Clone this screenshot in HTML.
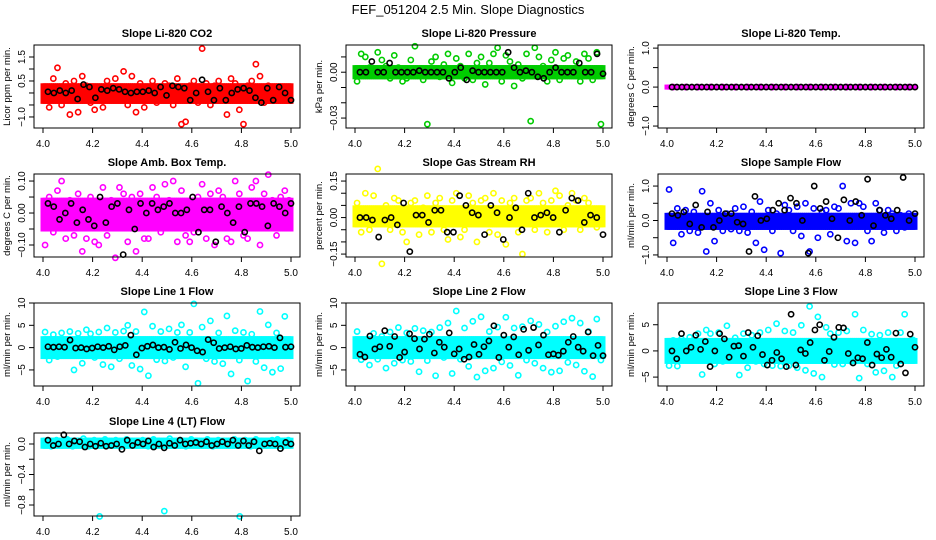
<!DOCTYPE html>
<html><head><meta charset="utf-8"><style>
html,body{margin:0;padding:0;background:#fff;}
svg{display:block;font-family:"Liberation Sans",Arial,sans-serif;}
.t{font-weight:bold;font-size:11px;}
.tk{font-size:10px;}
.yl{font-size:9.5px;}
</style></head><body>
<svg id="chart" width="936" height="540" viewBox="0 0 936 540">
<rect width="936" height="540" fill="#fff"/>
<text x="468" y="14" text-anchor="middle" font-size="13">FEF_051204  2.5 Min. Slope Diagnostics</text>
</svg>
<script>
// ---- data ----
const xTicks = [4.0, 4.2, 4.4, 4.6, 4.8, 5.0];
const xTickLabels = ["4.0", "4.2", "4.4", "4.6", "4.8", "5.0"];

const co2Band = [-0.35, 0.3];
const co2Points = [0.1,-0.6,0.6,1.05,-0.5,0.4,-0.9,0.5,-0.8,0.7,0.3,-0.4,-0.7,0.2,-0.6,0.5,-0.3,0.6,-0.2,0.9,-0.5,0.7,-0.8,0.4,-0.6,0.2,0.5,-0.4,-0.3,0.4,0.3,-0.5,0.6,-1.3,-1.2,0.3,0.5,-0.4,1.85,0.4,-0.5,0.3,0.5,-0.3,-0.9,0.6,0.4,-0.7,-1.3,0.3,0.5,1.2,0.7,-0.4,0.3,0.2,-0.3,0.1,-0.2,0.0];
const co2Black = [0.05,0.0,0.1,0.0,0.1,-0.25,0.35,0.25,-0.2,0.15,0.1,0.2,0.15,0.05,0.0,0.05,0.05,0.1,0.0,0.25,-0.1,0.3,0.25,0.2,-0.3,0.0,0.55,0.05,-0.3,0.2,-0.3,0.0,0.15,0.2,0.1,-0.2,-0.4,0.2,-0.3,0.25,0.0,-0.3];

const presBand = [-0.003, 0.003];
const presPoints = [-0.006,0.012,0.010,0.003,-0.002,0.013,0.008,0.004,-0.004,0.011,0.003,-0.006,-0.004,0.008,0.017,0.002,-0.005,-0.034,0.007,0.010,-0.003,0.005,0.012,-0.007,0.009,0.004,-0.004,0.012,-0.005,0.006,0.010,-0.008,0.006,0.012,0.016,-0.006,0.011,0.007,-0.009,0.005,-0.004,0.012,-0.032,0.016,0.010,0.004,-0.006,0.008,0.013,-0.005,0.009,0.011,-0.002,0.007,-0.006,0.012,0.009,-0.005,0.013,-0.034];
const presBlack = [0.0,0.0,0.007,0.0,0.0,0.006,0.0,0.0,0.0,0.0,0.001,0.0,0.0,0.0,0.0,-0.004,0.0,0.003,-0.005,0.001,0.0,0.0,0.0,0.0,0.0,0.013,0.003,0.0,0.001,0.0,-0.003,-0.004,0.0,0.003,0.0,0.0,0.0,0.006,0.0,0.0,0.012,-0.001];

const tempBand = [0.0, 0.0];
const tempPoints = [0,0,0,0,0,0,0,0,0,0,0,0,0,0,0,0,0,0,0,0];
const tempBlack = [0,0,0,0,0,0,0,0,0,0,0,0,0,0,0,0,0,0,0,0,0,0,0,0,0,0,0,0,0,0,0,0,0,0,0,0,0,0,0,0,0,0,0,0,0,0,0,0,0,0];

const ambBand = [-0.05, 0.04];
const ambPoints = [-0.1,0.05,-0.06,0.07,0.1,-0.08,0.04,-0.07,0.06,-0.12,-0.08,0.05,-0.09,-0.1,0.08,-0.07,0.04,-0.14,0.08,0.06,-0.09,0.05,-0.12,0.06,-0.08,-0.08,0.08,0.05,-0.06,0.09,0.04,0.1,-0.09,0.07,-0.07,-0.09,-0.06,0.05,0.09,-0.08,0.06,-0.1,0.07,0.05,-0.08,-0.09,0.1,0.06,-0.07,-0.08,0.08,0.1,-0.1,0.06,0.12,0.04,-0.07,0.05,0.07,0.04];
const ambBlack = [0.03,0.02,-0.02,0.0,0.03,-0.03,0.01,-0.02,-0.04,0.05,-0.03,0.02,0.03,-0.13,0.01,-0.05,0.03,0.0,0.03,0.01,0.02,0.03,0.0,0.0,0.01,0.05,-0.06,0.01,0.01,-0.09,0.02,0.0,-0.03,0.02,-0.06,0.03,0.03,0.02,-0.04,0.03,0.02,0.0,0.03];

const rhBand = [-0.03, 0.04];
const rhPoints = [0.06,-0.06,0.1,-0.05,0.09,0.2,-0.19,0.05,-0.05,0.08,0.07,-0.06,-0.1,0.06,0.07,-0.07,0.04,0.09,-0.06,0.06,0.08,-0.05,-0.09,0.07,0.1,-0.08,-0.05,0.09,0.06,-0.1,0.07,0.08,-0.06,0.1,-0.07,0.07,-0.11,0.06,0.08,-0.06,-0.15,0.07,0.08,-0.05,0.1,0.06,-0.06,0.07,0.11,0.09,-0.05,0.05,0.1,0.07,-0.05,0.08,0.06,0.03,-0.04,0.02];
const rhBlack = [0.0,0.0,-0.01,-0.08,-0.01,0.0,-0.03,0.06,-0.14,0.01,0.01,-0.02,0.03,0.03,-0.06,-0.06,0.09,0.05,0.02,0.01,-0.07,0.05,0.02,-0.09,0.0,0.04,-0.05,0.1,0.0,0.01,0.02,0.0,-0.06,0.03,0.08,0.07,-0.02,0.01,0.0,-0.07];

const sfBand = [-0.2, 0.15];
const sfPoints = [0.9,-0.65,0.35,-0.4,0.3,-0.3,0.25,-0.35,0.85,-0.9,0.5,-0.6,0.3,-0.3,0.2,-0.25,0.35,-0.3,0.4,-0.35,0.25,-0.65,0.55,-0.85,0.3,-0.3,0.2,-0.95,0.45,0.3,-0.3,0.4,-0.45,0.5,-0.9,0.35,-0.5,0.25,0.3,-0.4,0.4,0.35,1.0,-0.6,0.5,-0.65,0.5,0.4,-0.3,-0.6,0.5,0.3,-0.35,0.3,0.2,-0.3,0.15,-0.2,0.2,-0.1];
const sfBlack = [0.2,0.15,0.25,-0.1,0.45,-0.2,0.25,-0.2,0.0,0.2,0.2,-0.05,-0.1,-0.9,0.7,0.0,0.05,0.3,0.5,0.3,0.65,0.5,0.0,-0.95,1.0,0.35,0.55,0.05,-0.5,0.6,0.0,0.55,0.15,1.2,-0.15,0.3,0.15,0.05,0.3,1.25,0.0,0.2];

const l1Band = [-2, 2];
const l1Points = [3.5,-2.8,2.9,-2,3.3,-1.6,3.6,-5,3.2,-3.5,4,3.1,-2.2,3.5,-3.8,4.4,-4.3,3.4,-2.5,3.7,5,-4,3.6,-4.8,8,-6.3,4.8,-2.7,3.6,-3,4.2,-2.2,3.4,5.1,-4.3,3.4,9.8,-8,4.6,-2.5,6,-3.1,3.3,-3.6,7.1,-5.9,3.8,-2.8,3.4,-7.5,3,-3.1,8.1,-4.5,5.1,-5.5,3.3,-4.7,7,1.5];
const l1Black = [0.2,0.1,0.2,0.1,1.7,-0.1,0.0,-0.3,-0.1,0.2,0.0,0.3,-0.5,0.2,0.5,2.8,-1.6,-0.1,0.3,0.6,0.0,0.1,-0.4,1.2,-0.2,0.6,0.0,-0.7,-1.0,1.8,1.1,-0.2,0.0,0.2,-0.3,-0.2,0.5,0.1,0.0,0.2,0.3,0.0,2.2,0.1,0.2];

const l2Band = [-2, 2];
const l2Points = [3.6,-2.7,1.7,-3.9,3.2,-2.6,2.5,-4.6,3.5,-3.5,4.5,-2.8,3.3,-3.1,4.3,-5.4,3.8,-2.9,3.5,-6.3,4.5,-2.2,5.5,-5.8,8.2,-2.6,4.4,-4.2,5.9,-6.6,6.9,-5.2,3.6,-4.6,4.6,-3.2,6.8,-4,4.4,-6.2,4.7,-2.8,6,-3.5,5.2,-4.6,3.5,-5.5,4.8,-5.2,5.8,-3.3,6.6,-3.9,5.5,-5.3,3.6,-6.5,6.4,-2.8];
const l2Black = [-1.5,-2.1,2.6,-0.3,0.2,3.8,0.3,2.5,-2.2,-1,3.1,2,-0.3,1.9,3,-1.2,1.2,0.1,3.3,-1.4,-0.3,-2.6,-2.1,0.7,-1.5,0.2,1.5,4.9,-2.2,2.8,0.1,2.4,-1.6,4.1,-0.6,4.5,0.6,2.8,-1.6,-1.4,-1.7,-0.8,1.2,2.5,0.1,-0.8,3.5,-1.8,0.5,-1.8];

const l3Band = [-2, 2];
const l3Points = [-2.8,2,-2.9,2.3,-1.5,2.6,-1.5,3.3,-4.5,4,3.3,-2.5,3.5,-2,4.8,-1.5,2.5,-4.6,3.3,-3.2,3,-2,3.5,-2.5,4,-2.8,5.2,-2.9,3.8,-2.8,3.5,-3.2,4.9,-3.7,8.5,-4.3,6.5,-5,4.5,3.3,-2.6,3.5,-2.5,3.8,-2,7,-5.2,4,-2.5,3.2,-4.1,3,-3.8,3.5,-5,-2.8,3.5,7,0.8,2.1];
const l3Black = [0.0,-1.5,3.3,0.0,0.7,3.0,0.3,1.8,-3.0,0.0,3.3,2.3,-1.2,0.9,1.0,-1.0,3.5,0.7,2.9,-0.7,-2.7,-1.8,-0.3,-1.5,-3,7,-2.7,0.2,-0.5,1.6,4,5,-1.8,-0.1,2.6,4.5,4.4,-0.5,-2.3,-1.3,-1.5,1.6,-2.7,-0.6,-1.3,0.3,-1.2,3.4,-2.5,-4.2,3.2,0.7];

const l4Band = [-0.03, 0.05];
const l4Points = [0.04,-0.03,0.05,-0.02,0.06,-0.03,0.04,0.07,-0.03,0.05,-0.95,0.06,-0.02,0.05,-0.03,0.06,0.04,-0.02,0.05,-0.03,0.06,0.04,-0.88,0.07,-0.02,0.05,-0.03,0.06,0.04,-0.02,0.06,-0.03,0.05,0.04,-0.02,0.06,-0.95,0.05,-0.03,0.06,0.04,-0.02,0.05,0.06,-0.03,0.05];
const l4Black = [0.05,-0.02,0.0,0.12,0.0,0.04,0.03,-0.04,0.0,-0.03,0.01,-0.03,-0.02,0.0,-0.07,0.05,-0.02,0.02,0.0,0.04,-0.04,0.0,-0.05,0.01,-0.02,0.05,0.0,0.01,0.02,0.0,0.03,-0.02,0.0,0.03,0.0,0.05,-0.02,0.04,-0.02,0.03,-0.09,0.0,0.01,0.0,-0.06,0.02,0.0];

// ---- layout ----
const panels = [
 {key:'co2', title:'Slope Li-820 CO2', ylab:'Licor ppm per min.', color:'#ff0000', col:0,row:0, ymin:-1.46, ymax:2.0, ticks:[-1,-0.5,0,0.5,1,1.5], labels:{"-1":"\u22121.0","0.5":"0.5","1.5":"1.5"}, band:co2Band, pts:co2Points, blk:co2Black},
 {key:'pressure', title:'Slope Li-820 Pressure', ylab:'kPa per min.', color:'#00cc00', col:1,row:0, ymin:-0.0365, ymax:0.0178, ticks:[-0.03,-0.02,-0.01,0,0.01], labels:{"0":"0.00","-0.03":"\u22120.03"}, band:presBand, pts:presPoints, blk:presBlack},
 {key:'temp', title:'Slope Li-820 Temp.', ylab:'degrees C per min.', color:'#ff00ff', col:2,row:0, ymin:-1.05, ymax:1.08, ticks:[-1,-0.5,0,0.5,1], labels:{"-1":"\u22121.0","0":"0.0","1":"1.0"}, band:tempBand, pts:tempPoints, blk:tempBlack},
 {key:'amb', title:'Slope Amb. Box Temp.', ylab:'degrees C per min.', color:'#ff00ff', col:0,row:1, ymin:-0.1375, ymax:0.122, ticks:[-0.1,-0.05,0,0.05,0.1], labels:{"-0.1":"\u22120.10","0":"0.00","0.1":"0.10"}, band:ambBand, pts:ambPoints, blk:ambBlack},
 {key:'rh', title:'Slope Gas Stream RH', ylab:'percent per min.', color:'#ffff00', col:1,row:1, ymin:-0.162, ymax:0.179, ticks:[-0.15,-0.1,-0.05,0,0.05,0.1,0.15], labels:{"-0.15":"\u22120.15","0":"0.00","0.15":"0.15"}, band:rhBand, pts:rhPoints, blk:rhBlack},
 {key:'sample-flow', title:'Slope Sample Flow', ylab:'ml/min per min.', color:'#0000ff', col:2,row:1, ymin:-1.06, ymax:1.35, ticks:[-1,-0.5,0,0.5,1], labels:{"-1":"\u22121.0","0":"0.0","1":"1.0"}, band:sfBand, pts:sfPoints, blk:sfBlack},
 {key:'line1', title:'Slope Line 1 Flow', ylab:'ml/min per min.', color:'#00ffff', col:0,row:2, ymin:-8.6, ymax:10, ticks:[-5,0,5,10], labels:{"-5":"\u22125","0":"0","5":"5","10":"10"}, band:l1Band, pts:l1Points, blk:l1Black},
 {key:'line2', title:'Slope Line 2 Flow', ylab:'ml/min per min.', color:'#00ffff', col:1,row:2, ymin:-8.6, ymax:10, ticks:[-5,0,5,10], labels:{"-5":"\u22125","0":"0","5":"5","10":"10"}, band:l2Band, pts:l2Points, blk:l2Black},
 {key:'line3', title:'Slope Line 3 Flow', ylab:'ml/min per min.', color:'#00ffff', col:2,row:2, ymin:-6.7, ymax:9.15, ticks:[-5,0,5], labels:{"-5":"\u22125","0":"0","5":"5"}, band:l3Band, pts:l3Points, blk:l3Black},
 {key:'line4', title:'Slope Line 4 (LT) Flow', ylab:'ml/min per min.', color:'#00ffff', col:0,row:3, ymin:-0.944, ymax:0.144, ticks:[-0.8,-0.6,-0.4,-0.2,0], labels:{"0":"0.0","-0.4":"\u22120.4","-0.8":"\u22120.8"}, band:l4Band, pts:l4Points, blk:l4Black}
];
const boxLs = [34, 346, 658];
const boxTs = [45, 174, 303, 433];
const BW = 266, BH = 83;

const svg = document.getElementById('chart');
const NS = 'http://www.w3.org/2000/svg';
function mk(tag, attrs, parent){
  const e = document.createElementNS(NS, tag);
  for (const k in attrs) e.setAttribute(k, attrs[k]);
  (parent||svg).appendChild(e);
  return e;
}

panels.forEach(p => {
  const L = boxLs[p.col], T = boxTs[p.row], R = L + BW, B = T + BH;
  const xs = v => L + 9 + (v - 4.0) * 248;
  const ys = v => B - (v - p.ymin) / (p.ymax - p.ymin) * BH;
  const g = mk('g', {});
  
  

  const title = mk('text', {x:(L+R)/2, y:T-8, 'text-anchor':'middle', class:'t'}, g);
  title.textContent = p.title;
  
  

  // band of dense points
  const band = mk('g', {}, g);
  
  
  const nb = 120;
  for (let i = 0; i < nb; i++) {
    const t = 4.0 + i / (nb - 1);
    const lo = ys(p.band[0]), hi = ys(p.band[1]);
    const c = mk('rect', {x:xs(t)-2.5, y:hi-2.5, width:5, height:Math.max(5, lo-hi+5), fill:p.color}, band);
    
    
  }
  // scattered colored points
  const n = p.pts.length;
  p.pts.forEach((v, i) => {
    const t = 4.0 + (i + 0.5) / n;
    const c = mk('circle', {cx:xs(t), cy:ys(v), r:2.6, fill:'none', stroke:p.color, 'stroke-width':1.6}, g);
    
    
  });
  // black points
  const m = p.blk.length;
  p.blk.forEach((v, i) => {
    const t = 4.02 + i * 0.98 / (m - 1);
    const c = mk('circle', {cx:xs(t), cy:ys(v), r:2.6, fill:'none', stroke:'#000', 'stroke-width':1.6}, g);
    
    
  });

  const box = mk('rect', {x:L, y:T, width:BW, height:BH, fill:'none', stroke:'#000', 'stroke-width':1}, g);
  
  

  // x axis
  const xa = mk('g', {}, g);
  
  
  xTicks.forEach((v, i) => {
    mk('line', {x1:xs(v), x2:xs(v), y1:B, y2:B+5, stroke:'#000'}, xa);
    const tl = mk('text', {x:xs(v), y:B+19, 'text-anchor':'middle', class:'tk'}, xa);
    tl.textContent = xTickLabels[i];
    
    
  });
  // y axis
  const ya = mk('g', {}, g);
  
  
  mk('line', {x1:L, x2:L, y1:ys(p.ticks[0]), y2:ys(p.ticks[p.ticks.length-1]), stroke:'#000'}, ya);
  p.ticks.forEach(v => {
    mk('line', {x1:L-5, x2:L, y1:ys(v), y2:ys(v), stroke:'#000'}, ya);
    const lab = p.labels[String(v)];
    if (lab !== undefined) {
      const yy = ys(v);
      const tl = mk('text', {x:L-9, y:yy, 'text-anchor':'middle', class:'tk', transform:'rotate(-90 '+(L-9)+' '+yy+')'}, ya);
      tl.textContent = lab;
      
      
    }
  });
  const cy = (T + B) / 2, cx = L - 24;
  const yl = mk('text', {x:cx, y:cy, 'text-anchor':'middle', class:'yl', transform:'rotate(-90 '+cx+' '+cy+')'}, g);
  yl.textContent = p.ylab;
  
  
});
</script>
</body></html>
